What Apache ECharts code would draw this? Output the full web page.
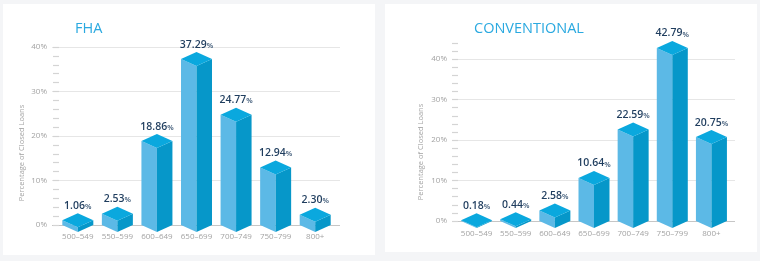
<!DOCTYPE html>
<html>
<head>
<meta charset="utf-8">
<script src="https://cdn.jsdelivr.net/npm/echarts@6/dist/echarts.min.js"></script>
<style>
  html, body { margin: 0; padding: 0; background: #f4f5f7; }
  #chart { width: 760px; height: 261px; }
</style>
</head>
<body>
<div id="chart"></div>
<script>
// 数据
const categories = ['500–549', '550–599', '600–649', '650–699', '700–749', '750–799', '800+']
const fhaValues = [1.06, 2.53, 18.86, 37.29, 24.77, 12.94, 2.30]
const conventionalValues = [0.18, 0.44, 2.58, 10.64, 22.59, 42.79, 20.75]
const panelTitles = ['FHA', 'CONVENTIONAL']
const yAxisName = 'Percentage of Closed Loans'

const frontColor = '#5cb9e6'
const sideColor = '#0697c9'
const topColor = '#0aa8de'
const grayText = '#a3a3a3'
const titleColor = '#2aa9e0'
const valueColor = '#1f3d5e'
const fontFamily = '"Open Sans", sans-serif'

// 3D 柱子
const renderBar3d = (params, api) => {
    const top = api.coord([api.value(0), api.value(1)])
    const base = api.coord([api.value(0), 0])
    const x = top[0], yt = top[1], yb = base[1]
    const w = 15.5, h = 7
    return {
    type: 'group',
    children: [
        { type: 'polygon', shape: { points: [[x - w, yt], [x, yt + h], [x, yb + h], [x - w, yb]] }, style: { fill: frontColor } },
        { type: 'polygon', shape: { points: [[x, yt + h], [x + w, yt], [x + w, yb], [x, yb + h]] }, style: { fill: sideColor } },
        { type: 'polygon', shape: { points: [[x - w, yt], [x, yt - h], [x + w, yt], [x, yt + h]] }, style: { fill: topColor } },
        {
        type: 'text',
        x: x,
        y: yt - h - 2,
        style: {
            text: '{v|' + api.value(1).toFixed(2) + '}{p|%}',
            align: 'center',
            verticalAlign: 'bottom',
            rich: {
            v: { fontFamily: fontFamily, fontSize: 10.5, fontWeight: 600, fill: valueColor, color: valueColor },
            p: { fontFamily: fontFamily, fontSize: 7.5, fontWeight: 600, fill: '#3c5876', color: '#3c5876', padding: [2, 0, 0, 0] }
            }
        }
        }
    ]
    }
}

const splitColors = ['#c6c6c6', '#e6e6e6', '#e6e6e6', '#e6e6e6', '#e6e6e6']

const majorY = (gridIndex) => ({
    type: 'value', gridIndex, min: 0, max: 40, interval: 10,
    axisLine: { show: false }, axisTick: { show: false },
    axisLabel: { formatter: '{value}%', color: grayText, fontSize: 8, fontFamily: fontFamily, margin: 5 },
    splitLine: { lineStyle: { color: splitColors, width: 1.2 } }
})

const minorY = (gridIndex, max) => ({
    type: 'value', gridIndex, min: 0, max: max, interval: 2, offset: 5,
    axisLine: { show: false }, axisLabel: { show: false }, splitLine: { show: false },
    axisTick: { show: true, inside: true, length: 6, lineStyle: { color: '#d4d4d4', width: 1.2 } }
})

const catX = (gridIndex, margin, show) => ({
    type: 'category', gridIndex, data: categories, show: show,
    axisLine: { show: false }, axisTick: { show: false },
    axisLabel: { interval: 0, color: grayText, fontSize: 8, fontFamily: fontFamily, margin: margin }
})

const option = {
    animation: false,
    graphic: [
    { type: 'rect', shape: { x: 3, y: 4, width: 372, height: 251 }, style: { fill: '#ffffff' }, z: -10 },
    { type: 'rect', shape: { x: 385, y: 4, width: 372, height: 248 }, style: { fill: '#ffffff' }, z: -10 },
    { type: 'text', x: 75, y: 29, style: { text: panelTitles[0], fill: titleColor, fontSize: 14.5, fontFamily: fontFamily, verticalAlign: 'middle' } },
    { type: 'text', x: 474, y: 29, style: { text: panelTitles[1], fill: titleColor, fontSize: 14.5, fontFamily: fontFamily, verticalAlign: 'middle' } },
    { type: 'text', x: 22, y: 153, rotation: Math.PI / 2, style: { text: yAxisName, fill: grayText, fontSize: 7.5, fontFamily: fontFamily, align: 'center', verticalAlign: 'middle' } },
    { type: 'text', x: 421, y: 152, rotation: Math.PI / 2, style: { text: yAxisName, fill: grayText, fontSize: 7.5, fontFamily: fontFamily, align: 'center', verticalAlign: 'middle' } }
    ],
    grid: [
    { left: 52, top: 47, width: 288, height: 178 },
    { left: 58, top: 47, width: 277, height: 178 },
    { left: 452, top: 59, width: 283, height: 162 },
    { left: 457, top: 43, width: 274, height: 178 }
    ],
    xAxis: [catX(0, 0, false), catX(1, 8, true), catX(2, 0, false), catX(3, 9, true)],
    yAxis: [majorY(0), minorY(1, 40), majorY(2), minorY(3, 44)],
    series: [
    {
        type: 'custom', xAxisIndex: 1, yAxisIndex: 1,
        renderItem: renderBar3d,
        data: fhaValues.map((v, i) => [categories[i], v])
    },
    {
        type: 'custom', xAxisIndex: 3, yAxisIndex: 3,
        renderItem: renderBar3d,
        data: conventionalValues.map((v, i) => [categories[i], v])
    }
    ]
}

const chart = echarts.init(document.getElementById('chart'))
chart.setOption(option)
</script>
</body>
</html>
